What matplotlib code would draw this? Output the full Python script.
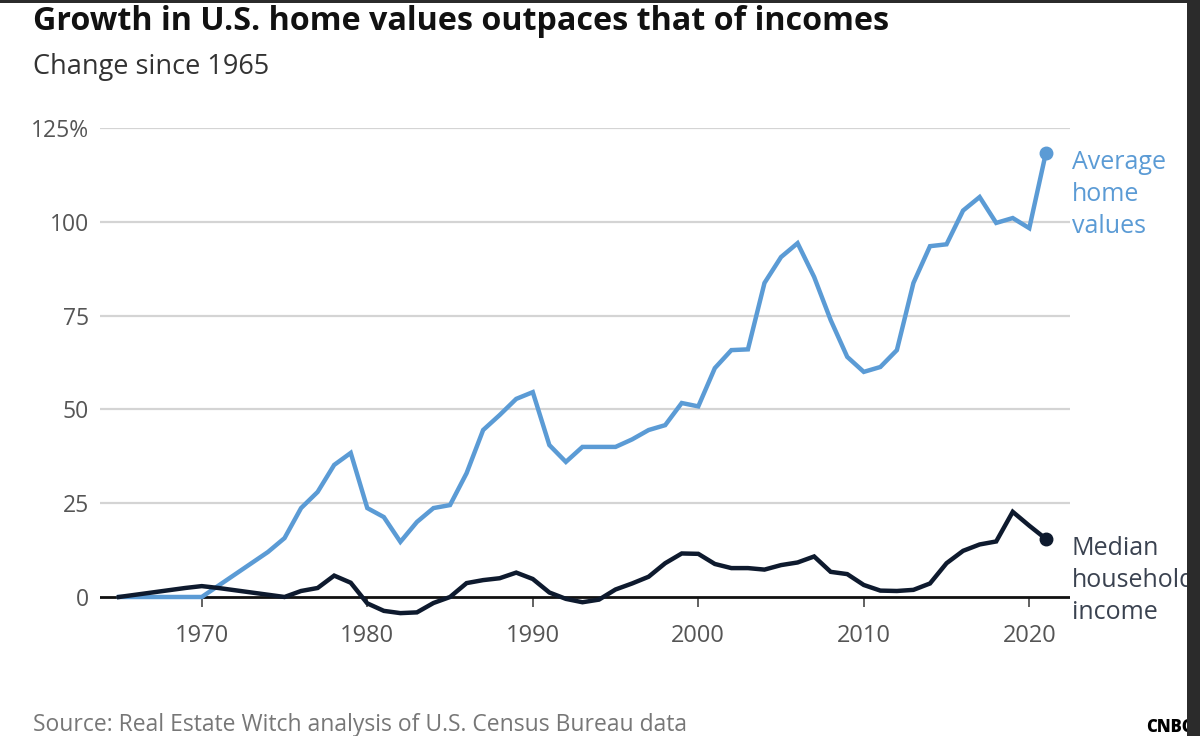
import matplotlib
matplotlib.use("Agg")
import matplotlib.pyplot as plt
from matplotlib.patches import Rectangle

plt.rcParams['font.family'] = ['Open Sans', 'DejaVu Sans']

years = list(range(1965, 2022))
home_values = [0, 0, 0, 0, 0, 0, 3, 6, 9, 12,
               15.7, 23.7, 28, 35.2, 38.4, 23.7, 21.3, 14.7, 20, 23.7,
               24.5, 33, 44.5, 48.5, 52.8, 54.6, 40.5, 36, 40, 40,
               40, 42, 44.5, 45.8, 51.7, 50.8, 61, 65.8, 66, 83.7,
               90.6, 94.3, 85.3, 73.8, 64, 60, 61.3, 65.8, 83.7, 93.5,
               94, 103, 106.6, 99.7, 101, 98.3, 118.3]
median_income = [0, 0.6, 1.2, 1.8, 2.4, 2.9, 2.4, 1.8, 1.2, 0.6,
                 0, 1.6, 2.4, 5.7, 3.8, -1.7, -3.7, -4.3, -4.1, -1.6,
                 0, 3.7, 4.5, 5, 6.5, 4.8, 1.2, -0.5, -1.4, -0.7,
                 2, 3.6, 5.4, 9, 11.6, 11.5, 8.8, 7.7, 7.7, 7.3,
                 8.5, 9.2, 10.8, 6.7, 6.1, 3.2, 1.7, 1.6, 1.9, 3.6,
                 9, 12.3, 14, 14.8, 22.7, 19, 15.5]
y_ticks = [0, 25, 50, 75, 100, 125]
y_tick_labels = ["0", "25", "50", "75", "100", "125%"]
x_ticks = [1970, 1980, 1990, 2000, 2010, 2020]

BLUE = "#5b9bd5"
NAVY = "#0e1a2e"

W, H = 1200, 736
fig = plt.figure(figsize=(W / 100, H / 100), dpi=100)
fig.patch.set_facecolor("white")

ax = fig.add_axes([100 / W, 1 - 619.5 / H, 970 / W, (619.5 - 128) / H])
ax.set_xlim(1963.85, 2022.46)
ax.set_ylim(-6, 125)

for v in y_ticks[1:]:
    ax.axhline(v, color="#d4d4d4", lw=1.6, zorder=1)
ax.axhline(0, color="#111111", lw=2, zorder=2)

ax.plot(years, home_values, color=BLUE, lw=3.2, zorder=3, solid_joinstyle="miter")
ax.plot(years, median_income, color=NAVY, lw=3.2, zorder=4, solid_joinstyle="miter")
ax.plot(years[-1], home_values[-1], "o", color=BLUE, ms=9, zorder=5)
ax.plot(years[-1], median_income[-1], "o", color=NAVY, ms=9, zorder=5)

for s in ["top", "right", "left"]:
    ax.spines[s].set_visible(False)
ax.spines["bottom"].set_position(("data", 0))
ax.spines["bottom"].set_visible(False)

ax.set_yticks(y_ticks)
ax.set_yticklabels(y_tick_labels)
ax.tick_params(axis="y", length=0, pad=8, labelsize=16.5, labelcolor="#555555")
ax.set_xticks(x_ticks)
ax.set_xticklabels([str(x) for x in x_ticks])
ax.tick_params(axis="x", length=7.5, width=1.3, color="#555555", pad=12,
               labelsize=17, labelcolor="#555555", direction="out")

fig.text(1072 / W, 1 - 150 / H, "Average\nhome\nvalues",
         color=BLUE, fontsize=18, va="top", ha="left", linespacing=1.37)
fig.text(1072 / W, 1 - 536 / H, "Median\nhousehold\nincome", color="#3a4250",
         fontsize=18, va="top", ha="left", linespacing=1.37)

fig.text(33 / W, 1 - 22 / H, "Growth in U.S. home values outpaces that of incomes",
         fontsize=23.2, fontweight="bold", color="#111111", va="center", ha="left")
fig.text(33 / W, 1 - 67 / H, "Change since 1965", fontsize=19.5, color="#333333",
         va="center", ha="left")
fig.text(33 / W, 1 - 725 / H, "Source: Real Estate Witch analysis of U.S. Census Bureau data",
         fontsize=16.5, color="#777777", va="center", ha="left")
fig.text(1146 / W, 1 - 727 / H, "CNBC", fontsize=12, fontweight="heavy", color="black",
         va="center", ha="left")

fig.add_artist(Rectangle((1187 / W, 0), 1 - 1187 / W, 1, transform=fig.transFigure,
                         facecolor="#2b2b2b", edgecolor="none", zorder=10))
fig.add_artist(Rectangle((0, 1 - 3 / H), 1, 3 / H, transform=fig.transFigure,
                         facecolor="#2b2b2b", edgecolor="none", zorder=10))

fig.savefig("out.png", dpi=100)
